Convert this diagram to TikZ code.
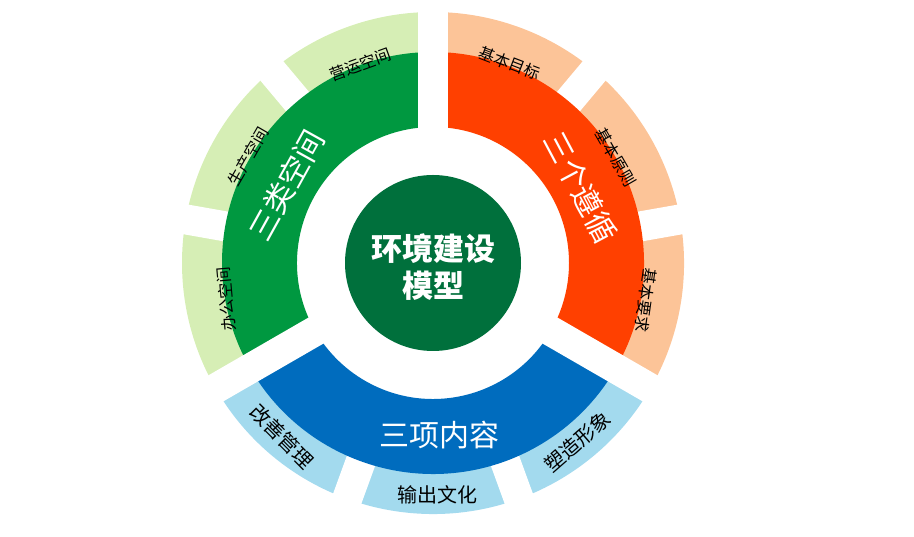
\documentclass[tikz,border=0pt]{standalone}
\usepackage{fontspec}
\newfontfamily\cjk{Noto Sans CJK SC}
\definecolor{hubgreen}{RGB}{0,112,60}
\definecolor{spacegreen}{RGB}{0,152,64}
\definecolor{spacelight}{RGB}{214,238,181}
\definecolor{ruleorange}{RGB}{255,64,0}
\definecolor{rulelight}{RGB}{252,196,152}
\definecolor{contentblue}{RGB}{0,108,190}
\definecolor{contentlight}{RGB}{163,218,238}
% annulus piece: colour, start angle, end angle, outer radius, inner radius
\newcommand{\ringpart}[5]{%
  \fill[#1] (#2:#4) arc[start angle=#2, end angle=#3, radius=#4]
    -- (#3:#5) arc[start angle=#3, end angle=#2, radius=#5] -- cycle;}

\begin{document}
\begin{tikzpicture}[
        gapline/.style={draw=white, line width=30pt},
        hub/.style={circle, fill=hubgreen, minimum size=176pt, inner sep=0pt},
        hubtxt/.style={text=white, align=center, inner sep=0pt,
                       font=\cjk\bfseries\fontsize{31}{37}\selectfont},
        bigtxt/.style={text=white, inner sep=0pt, font=\cjk\fontsize{30}{32}\selectfont},
        smalltxt/.style={text=black, inner sep=0pt, font=\cjk\fontsize{16}{18}\selectfont},
        bluetxt/.style={text=black, inner sep=0pt, font=\cjk\fontsize{20}{22}\selectfont}
    ]
    \useasboundingbox (0,0) rectangle (914pt,537pt);
    \begin{scope}[shift={(433pt,274pt)}]
    % outer ring
    \ringpart{spacelight}{90}{210}{251pt}{205pt}
    \ringpart{rulelight}{-30}{90}{251pt}{205pt}
    \ringpart{contentlight}{210}{330}{251pt}{205pt}
    \foreach \a in {10,50,130,170,250,290}
        \draw[gapline] (\a:200pt) -- (\a:260pt);
    % inner ring
    \ringpart{spacegreen}{90}{210}{211pt}{136pt}
    \ringpart{ruleorange}{-30}{90}{211pt}{136pt}
    \ringpart{contentblue}{210}{330}{211pt}{136pt}
    \foreach \a in {90,210,330}
        \draw[gapline] (\a:100pt) -- (\a:260pt);
    \node[hub] (hub) at (0,0) {};
    \node[hubtxt] (hubname) at (0,-4pt) {环境建设\\模型};

    \node[bigtxt, rotate=61] (spaces) at (152:166pt) {三类空间};
    \node[bigtxt, rotate=-62] (rules) at (27:166pt) {三个遵循};
    \node[bigtxt] (contents) at (-88:172pt) {三项内容};

    \node[smalltxt, rotate=20] (s1) at (110:211pt) {营运空间};
    \node[smalltxt, rotate=60] (s2) at (150:213pt) {生产空间};
    \node[smalltxt, rotate=95] (s3) at (190:210pt) {办公空间};
    \node[smalltxt, rotate=-21] (r1) at (69:214pt) {基本目标};
    \node[smalltxt, rotate=-60] (r2) at (30:211pt) {基本原则};
    \node[smalltxt, rotate=-98] (r3) at (-10:216pt) {基本要求};
    \node[bluetxt, rotate=-45] (c1) at (229:230pt) {改善管理};
    \node[bluetxt] (c2) at (-89:232pt) {输出文化};
    \node[bluetxt, rotate=41] (c3) at (309:230pt) {塑造形象};
    \end{scope}
\end{tikzpicture}
\end{document}
